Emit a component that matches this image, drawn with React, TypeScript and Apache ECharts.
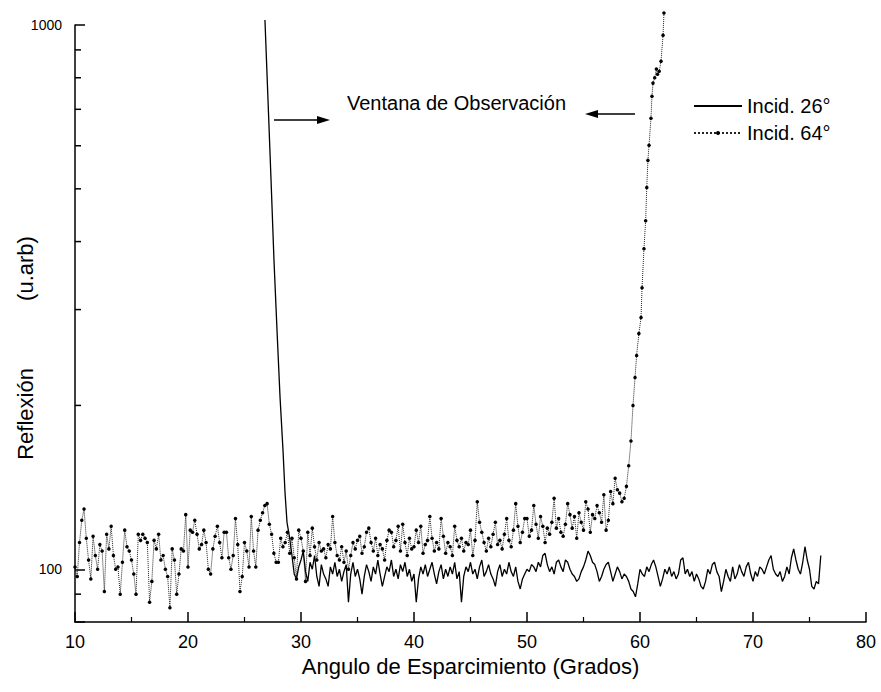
import React, { useEffect, useRef } from 'react';
import * as echarts from 'echarts';

// ---- Data ----
const seriesNames = ['Incid. 26°', 'Incid. 64°'];

// Incid. 26° : steep specular tail (x, y) then the flat noisy part
const s1PeakX = [26.81, 27.08, 27.35, 27.61, 27.88, 28.14, 28.41, 28.58, 28.76, 28.94];
const s1PeakY = [1021, 728, 518, 369, 274, 208, 165, 139, 122, 116];
const s1NoiseStart = 29.0;
const s1NoiseStep = 0.2;
const s1Noise = [
  114, 106, 98, 96, 101, 104, 108, 99, 95, 103,
  100, 106, 97, 93, 102, 98, 96, 93, 101, 98,
  103, 97, 100, 95, 99, 102, 87, 98, 103, 97,
  100, 96, 90, 97, 102, 99, 95, 101, 98, 104,
  98, 93, 97, 101, 99, 104, 97, 100, 96, 102,
  99, 103, 97, 100, 95, 98, 87, 96, 101, 98,
  102, 97, 100, 103, 98, 94, 99, 102, 96, 100,
  97, 101, 98, 103, 96, 99, 87, 97, 101, 99,
  103, 98, 100, 96, 101, 104, 97, 99, 102, 98,
  96, 93, 99, 102, 97, 100, 98, 103, 99, 97,
  101, 95, 92, 96, 98, 100, 99, 102, 101, 99,
  103, 101, 106, 107, 102, 99, 101, 98, 103, 104,
  101, 99, 104, 103, 100, 98, 97, 95, 96, 99,
  101, 104, 108, 106, 103, 102, 99, 95, 97, 100,
  102, 103, 99, 95, 98, 101, 99, 96, 98, 97,
  95, 92, 91, 89, 94, 100, 98, 97, 101, 99,
  102, 104, 101, 97, 93, 96, 100, 98, 101, 97,
  99, 96, 98, 104, 105, 98, 100, 97, 99, 95,
  98, 96, 93, 92, 95, 100, 98, 102, 103, 99,
  97, 91, 95, 100, 97, 95, 101, 96, 98, 102,
  99, 97, 101, 103, 98, 95, 99, 97, 101, 100,
  98, 101, 104, 106, 100, 98, 97, 99, 95, 97,
  101, 98, 105, 109, 104, 100, 98, 103, 110, 104,
  100, 93, 92, 95, 94, 106,
];

// Incid. 64° : noisy part on a 0.2° grid, then the steep rise (x, y)
const s2NoiseStart = 10.0;
const s2NoiseStep = 0.2;
const s2Noise = [
  101, 97, 112, 123, 129, 114, 104, 96, 115, 106,
  100, 111, 108, 91, 116, 109, 120, 106, 100, 101,
  90, 103, 118, 110, 108, 104, 98, 90, 116, 113,
  116, 114, 112, 87, 95, 113, 109, 116, 104, 106,
  100, 97, 85, 109, 104, 90, 98, 109, 108, 126,
  101, 118, 117, 123, 116, 109, 111, 118, 112, 100,
  98, 109, 115, 120, 112, 105, 117, 117, 105, 100,
  106, 124, 111, 91, 97, 112, 108, 101, 125, 108,
  101, 118, 123, 127, 131, 132, 121, 116, 107, 103,
  103, 114, 110, 112, 117, 107, 114, 105, 96, 118,
  114, 108, 95, 117, 106, 119, 110, 104, 112, 108,
  109, 105, 111, 109, 125, 112, 106, 104, 110, 103,
  108, 100, 106, 112, 109, 113, 115, 107, 110, 117,
  119, 112, 108, 114, 106, 111, 109, 104, 113, 118,
  117, 110, 113, 120, 108, 121, 112, 106, 114, 109,
  110, 118, 112, 120, 107, 111, 113, 125, 114, 108,
  112, 109, 124, 115, 107, 112, 110, 106, 120, 113,
  110, 114, 108, 112, 111, 118, 106, 113, 133, 122,
  117, 112, 108, 114, 110, 116, 122, 111, 113, 109,
  116, 124, 113, 110, 118, 132, 120, 112, 117, 124,
  124, 115, 118, 131, 121, 114, 125, 120, 112, 119,
  116, 122, 135, 119, 124, 117, 115, 121, 132, 126,
  119, 125, 114, 127, 122, 118, 133, 129, 117, 126,
  124, 131, 127, 122, 137, 118, 123, 139, 132, 147,
  140, 138, 133, 135, 142,
];
const s2RiseX = [59.0, 59.2, 59.38, 59.56, 59.7, 59.9, 60.09, 60.18, 60.35, 60.5, 60.6, 60.7, 60.8, 60.97, 61.06, 61.15, 61.3, 61.45, 61.55, 61.7, 61.86, 62.04, 62.12];
const s2RiseY = [155, 172, 200, 225, 247, 271, 290, 329, 388, 437, 503, 564, 601, 674, 740, 782, 800, 830, 812, 822, 858, 958, 1052];

const yMinorTicks = [90, 200, 300, 400, 500, 600, 700, 800, 900];
const yLabelValues = [100, 1000];

const FONT = '"Liberation Sans", Arial, Helvetica, sans-serif';
const NB = '\u00a0';

export default function App() {
  const ref = useRef<HTMLDivElement>(null);

  useEffect(() => {
    if (!ref.current) return;
    const chart = echarts.init(ref.current, null, { renderer: 'svg' });

    const s1Data: number[][] = s1PeakX.map((x, i) => [x, s1PeakY[i]]).concat(
      s1Noise.map((v, i) => [Math.round((s1NoiseStart + i * s1NoiseStep) * 100) / 100, v])
    );
    const s2Data: number[][] = s2Noise
      .map((v, i) => [Math.round((s2NoiseStart + i * s2NoiseStep) * 100) / 100, v])
      .concat(s2RiseX.map((x, i) => [x, s2RiseY[i]]));

    chart.setOption({
      animation: false,
      backgroundColor: '#ffffff',
      textStyle: { fontFamily: FONT, color: '#000' },
      grid: { left: 75, right: 15, top: 25, bottom: 70, containLabel: false, outerBoundsMode: 'none' },
      legend: {
        data: [
          { name: seriesNames[0], itemStyle: { opacity: 0 } },
          { name: seriesNames[1] },
        ],
        orient: 'vertical',
        left: 688,
        top: 91,
        itemWidth: 48,
        itemHeight: 5,
        itemGap: 7,
        textStyle: { fontSize: 20, color: '#000', fontFamily: FONT },
      },
      xAxis: {
        type: 'value',
        min: 10,
        max: 80,
        interval: 10,
        axisLine: { show: true, lineStyle: { color: '#000', width: 1.5 } },
        axisTick: { show: true, inside: true, length: 10, lineStyle: { color: '#000', width: 1.5 } },
        minorTick: { show: true, splitNumber: 2, length: 5, lineStyle: { color: '#000', width: 1.2 } },
        axisLabel: { color: '#000', fontSize: 18, margin: 11, fontFamily: FONT },
        splitLine: { show: false },
        name: 'Angulo de Esparcimiento (Grados)',
        nameLocation: 'middle',
        nameGap: 33,
        nameTextStyle: { fontSize: 22, color: '#000', fontFamily: FONT },
      },
      yAxis: {
        type: 'log',
        logBase: 10,
        min: 80,
        max: 1000,
        axisLine: { show: true, lineStyle: { color: '#000', width: 1.5 } },
        axisTick: { show: true, inside: true, length: 10, lineStyle: { color: '#000', width: 1.5 } },
        axisLabel: {
          color: '#000',
          fontSize: 14,
          margin: 13,
          fontFamily: FONT,
          formatter: (v: number) => {
            const hit = yLabelValues.find((t) => Math.abs(t - v) / t < 1e-6);
            return hit !== undefined ? String(hit) : '';
          },
        },
        splitLine: { show: false },
        name: 'Reflexión' + NB.repeat(11) + '(u.arb)' + NB.repeat(8),
        nameLocation: 'middle',
        nameGap: 39,
        nameRotate: 90,
        nameMoveOverlap: false,
        nameTextStyle: { fontSize: 22, color: '#000', fontFamily: FONT },
      },
      graphic: [
        {
          type: 'text',
          x: 347,
          y: 103,
          style: { text: 'Ventana de Observación', fontSize: 20, fill: '#000', fontFamily: FONT, verticalAlign: 'middle' },
        },
        { type: 'line', shape: { x1: 274, y1: 120, x2: 320, y2: 120 }, style: { stroke: '#000', lineWidth: 1.5 } },
        { type: 'polygon', shape: { points: [[330, 120], [317, 116], [317, 124]] }, style: { fill: '#000' } },
        { type: 'line', shape: { x1: 635, y1: 114, x2: 596, y2: 114 }, style: { stroke: '#000', lineWidth: 1.5 } },
        { type: 'polygon', shape: { points: [[585, 114], [598, 110], [598, 118]] }, style: { fill: '#000' } },
      ],
      series: [
        {
          name: seriesNames[0],
          type: 'line',
          data: s1Data,
          symbol: 'none',
          clip: false,
          lineStyle: { color: '#000', width: 1.3 },
          itemStyle: { color: '#000' },
          z: 3,
        },
        {
          name: seriesNames[1],
          type: 'line',
          data: s2Data,
          symbol: 'circle',
          symbolSize: 3.5,
          showSymbol: true,
          clip: false,
          lineStyle: { color: '#222', width: 1, type: 'dotted' },
          itemStyle: { color: '#000' },
          z: 2,
        },
        {
          name: 'yMinorTicks',
          type: 'custom',
          silent: true,
          clip: false,
          data: yMinorTicks.map((v) => [10, v]),
          encode: { x: 0, y: 1 },
          renderItem: (_params: any, api: any) => {
            const p = api.coord([api.value(0), api.value(1)]);
            return {
              type: 'line',
              shape: { x1: p[0], y1: p[1], x2: p[0] + 6, y2: p[1] },
              style: { stroke: '#000', lineWidth: 1.5 },
            };
          },
          z: 4,
        },
      ],
    });

    return () => chart.dispose();
  }, []);

  return (
    <div
      ref={ref}
      style={{ position: 'fixed', left: 0, top: 0, width: 881, height: 692, background: '#fff' }}
    />
  );
}
